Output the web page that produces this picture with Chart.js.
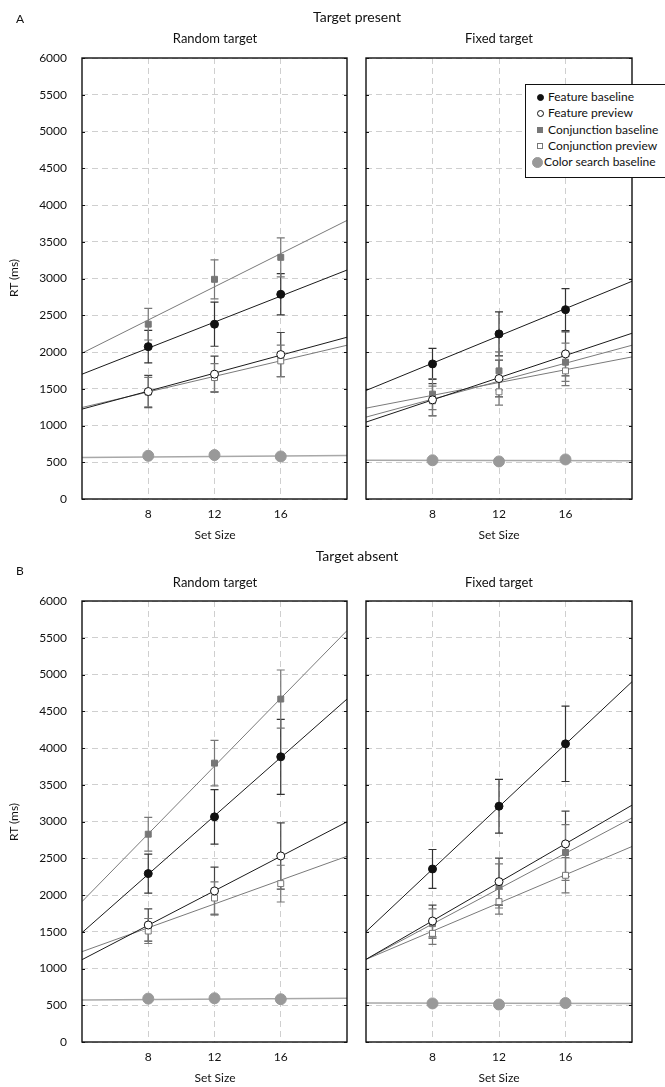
<!DOCTYPE html>
<html><head><meta charset="utf-8">
<script src="https://cdn.jsdelivr.net/npm/chart.js@4/dist/chart.umd.min.js"></script>
<style>
html,body{margin:0;padding:0;width:665px;height:1087px;overflow:hidden;background:#fff;font-family:Lato,'Open Sans',sans-serif;color:#111;}
canvas{position:absolute;left:0;top:0;}
.t{position:absolute;white-space:nowrap;transform:translate(-50%,-50%);line-height:1;}
.rot{transform:translate(-50%,-50%) rotate(-90deg);}
#legend{position:absolute;left:525px;top:84px;width:160px;height:92px;border:1px solid #111;background:#fff;font-size:12px;}
.mk{position:absolute;box-sizing:border-box;}
.lt{position:absolute;left:22px;white-space:nowrap;}
</style></head><body>
<canvas id="c1" width="665" height="1087"></canvas>
<canvas id="c2" width="665" height="1087"></canvas>
<canvas id="c3" width="665" height="1087"></canvas>
<canvas id="c4" width="665" height="1087"></canvas>

<div class="t" style="left:20px;top:19px;font-size:12px;">A</div>
<div class="t" style="left:357px;top:17px;font-size:14px;">Target present</div>
<div class="t" style="left:215px;top:38px;font-size:13px;">Random target</div>
<div class="t" style="left:499px;top:38px;font-size:13px;">Fixed target</div>
<div class="t rot" style="left:14px;top:278px;font-size:12px;">RT (ms)</div>
<div class="t" style="left:215px;top:535px;font-size:12px;">Set Size</div>
<div class="t" style="left:499px;top:535px;font-size:12px;">Set Size</div>
<div class="t" style="left:357px;top:556px;font-size:14px;">Target absent</div>
<div class="t" style="left:20px;top:571px;font-size:12px;">B</div>
<div class="t" style="left:215px;top:582px;font-size:13px;">Random target</div>
<div class="t" style="left:499px;top:582px;font-size:13px;">Fixed target</div>
<div class="t rot" style="left:14px;top:822px;font-size:12px;">RT (ms)</div>
<div class="t" style="left:215px;top:1078px;font-size:12px;">Set Size</div>
<div class="t" style="left:499px;top:1078px;font-size:12px;">Set Size</div>

<div id="legend"></div>

<script>
// ---------- shared axis data ----------
const setSizes = [8, 12, 16];
const fitX = [4, 20];
const seriesNames = ['Feature baseline', 'Feature preview', 'Conjunction baseline', 'Conjunction preview', 'Color search baseline'];

// ---------- A: Target present, Random target ----------
const presRandFeatBase = [2073, 2378, 2785];
const presRandFeatBaseErr = [220, 300, 280];
const presRandFeatBaseFit = [1698, 3115];
const presRandFeatPrev = [1462, 1698, 1965];
const presRandFeatPrevErr = [220, 245, 300];
const presRandFeatPrevFit = [1223, 2201];
const presRandConjBase = [2378, 2989, 3288];
const presRandConjBaseErr = [215, 265, 265];
const presRandConjBaseFit = [1984, 3790];
const presRandConjPrev = [1454, 1652, 1879];
const presRandConjPrevErr = [200, 190, 215];
const presRandConjPrevFit = [1245, 2092];
const presRandColor = [588, 598, 579];
const presRandColorFit = [565, 592];

// ---------- A: Target present, Fixed target ----------
const presFixFeatBase = [1838, 2246, 2576];
const presFixFeatBaseErr = [210, 300, 285];
const presFixFeatBaseFit = [1476, 2962];
const presFixFeatPrev = [1349, 1639, 1974];
const presFixFeatPrevErr = [220, 250, 300];
const presFixFeatPrevFit = [1046, 2255];
const presFixConjBase = [1427, 1743, 1861];
const presFixConjBaseErr = [210, 260, 260];
const presFixConjBaseFit = [1114, 2092];
const presFixConjPrev = [1336, 1458, 1743];
const presFixConjPrevErr = [200, 180, 200];
const presFixConjPrevFit = [1236, 1933];
const presFixColor = [527, 511, 538];
const presFixColorFit = [526, 522];

// ---------- B: Target absent, Random target ----------
const absRandFeatBase = [2291, 3063, 3880];
const absRandFeatBaseErr = [265, 370, 510];
const absRandFeatBaseFit = [1488, 4666];
const absRandFeatPrev = [1592, 2055, 2531];
const absRandFeatPrevErr = [220, 325, 450];
const absRandFeatPrevFit = [1120, 2995];
const absRandConjBase = [2827, 3794, 4666];
const absRandConjBaseErr = [230, 310, 395];
const absRandConjBaseFit = [1910, 5597];
const absRandConjPrev = [1510, 1959, 2155];
const absRandConjPrevErr = [170, 220, 250];
const absRandConjPrevFit = [1229, 2527];
const absRandColor = [590, 595, 582];
const absRandColorFit = [570, 595];

// ---------- B: Target absent, Fixed target ----------
const absFixFeatBase = [2354, 3208, 4057];
const absFixFeatBaseErr = [265, 365, 513];
const absFixFeatBaseFit = [1501, 4902];
const absFixFeatPrev = [1646, 2182, 2695];
const absFixFeatPrevErr = [215, 320, 445];
const absFixFeatPrevFit = [1124, 3222];
const absFixConjBase = [1610, 2123, 2578];
const absFixConjBaseErr = [200, 300, 380];
const absFixConjBaseFit = [1124, 3049];
const absFixConjPrev = [1478, 1910, 2268];
const absFixConjPrevErr = [150, 170, 240];
const absFixConjPrevFit = [1124, 2660];
const absFixColor = [525, 510, 530];
const absFixColorFit = [530, 525];

// ---------- styles ----------
const styles = [
  {line:'#1a1a1a', err:'#333', style:'circle', r:4, bg:'#111', bd:'#111', bw:1},
  {line:'#1a1a1a', err:'#444', style:'circle', r:4, bg:'#fff', bd:'#111', bw:1},
  {line:'#7a7a7a', err:'#777', style:'rect', r:4.2, bg:'#777', bd:'#777', bw:1},
  {line:'#7a7a7a', err:'#777', style:'rect', r:4.2, bg:'#fff', bd:'#777', bw:1},
  {line:'#a8a8a8', err:'#999', style:'circle', r:5.5, bg:'#999', bd:'#999', bw:1, lw:1.5}
];

function pts(vals){ return setSizes.map((x,i)=>({x:x, y:vals[i]})); }
function fit(vals){ return fitX.map((x,i)=>({x:x, y:vals[i]})); }

function buildDatasets(series){
  const ds = [];
  series.forEach((s, k)=>{
    const st = styles[k];
    ds.push({type:'line', label:seriesNames[k]+' fit', data:fit(s.fit), borderColor:st.line, borderWidth:st.lw||1,
      pointRadius:0, fill:false, order:10});
    ds.push({type:'scatter', label:seriesNames[k], data:pts(s.mean), errors:s.err, errorColor:st.err,
      pointStyle:st.style, pointRadius:st.r, backgroundColor:st.bg, borderColor:st.bd, borderWidth:st.bw, order:1});
  });
  return ds;
}

const errorBarPlugin = {
  id:'errbars',
  beforeDatasetsDraw(chart){
    const ctx = chart.ctx, xs = chart.scales.x, ys = chart.scales.y;
    chart.data.datasets.forEach(ds=>{
      if(!ds.errors) return;
      ctx.save(); ctx.strokeStyle = ds.errorColor; ctx.lineWidth = 1.2;
      ds.data.forEach((p,i)=>{
        const e = ds.errors[i]; if(!e) return;
        const x = xs.getPixelForValue(p.x), y1 = ys.getPixelForValue(p.y+e), y2 = ys.getPixelForValue(p.y-e);
        ctx.beginPath();
        ctx.moveTo(x,y1); ctx.lineTo(x,y2);
        ctx.moveTo(x-4,y1); ctx.lineTo(x+4,y1);
        ctx.moveTo(x-4,y2); ctx.lineTo(x+4,y2);
        ctx.stroke();
      });
      ctx.restore();
    });
  }
};

const framePlugin = {
  id:'frame',
  afterDraw(chart){
    const ctx = chart.ctx, a = chart.chartArea, ys = chart.scales.y;
    ctx.save();
    ctx.strokeStyle = '#111'; ctx.lineWidth = 1.4;
    ctx.strokeRect(a.left, a.top, a.right-a.left, a.bottom-a.top);
    ctx.lineWidth = 1;
    ys.ticks.forEach(t=>{
      const y = Math.round(ys.getPixelForValue(t.value))+0.5;
      ctx.beginPath(); ctx.moveTo(a.right-3,y); ctx.lineTo(a.right,y); ctx.stroke();
      ctx.beginPath(); ctx.moveTo(a.left,y); ctx.lineTo(a.left+3,y); ctx.stroke();
    });
    ctx.restore();
  }
};

const YW = 44, XH = 30, CW = 665, CH = 1087;
function makePanel(id, area, showY, series){
  new Chart(document.getElementById(id), {
    data:{datasets:buildDatasets(series)},
    options:{
      responsive:false, animation:false, devicePixelRatio:1,
      layout:{padding:{left:area.left-YW, top:area.top, right:CW-area.right, bottom:CH-area.bottom-XH}},
      plugins:{legend:{display:false}, tooltip:{enabled:false}},
      scales:{
        x:{type:'linear', min:4, max:20,
          afterBuildTicks:s=>{ s.ticks = setSizes.map(v=>({value:v})); },
          afterFit:s=>{ s.height = XH; },
          grid:{color:'#cfcfcf', lineWidth:1, drawTicks:false},
          border:{display:false, dash:[6,4]},
          ticks:{padding:8, color:'#111', font:{family:'Lato', size:12}, callback:v=>String(v)}},
        y:{type:'linear', min:0, max:6000,
          afterFit:s=>{ s.width = YW; },
          grid:{color:'#cfcfcf', lineWidth:1, drawTicks:false},
          border:{display:false, dash:[6,4]},
          ticks:{display:showY, stepSize:500, padding:15, color:'#111', font:{family:'Lato', size:12}, callback:v=>String(v)}}
      }
    },
    plugins:[errorBarPlugin, framePlugin]
  });
}

function S(mean, err, f){ return {mean:mean, err:err, fit:f}; }

makePanel('c1', {left:82, top:58, right:347, bottom:499}, true, [
  S(presRandFeatBase, presRandFeatBaseErr, presRandFeatBaseFit),
  S(presRandFeatPrev, presRandFeatPrevErr, presRandFeatPrevFit),
  S(presRandConjBase, presRandConjBaseErr, presRandConjBaseFit),
  S(presRandConjPrev, presRandConjPrevErr, presRandConjPrevFit),
  S(presRandColor, null, presRandColorFit)]);
makePanel('c2', {left:366, top:58, right:632, bottom:499}, false, [
  S(presFixFeatBase, presFixFeatBaseErr, presFixFeatBaseFit),
  S(presFixFeatPrev, presFixFeatPrevErr, presFixFeatPrevFit),
  S(presFixConjBase, presFixConjBaseErr, presFixConjBaseFit),
  S(presFixConjPrev, presFixConjPrevErr, presFixConjPrevFit),
  S(presFixColor, null, presFixColorFit)]);
makePanel('c3', {left:82, top:601, right:347, bottom:1042}, true, [
  S(absRandFeatBase, absRandFeatBaseErr, absRandFeatBaseFit),
  S(absRandFeatPrev, absRandFeatPrevErr, absRandFeatPrevFit),
  S(absRandConjBase, absRandConjBaseErr, absRandConjBaseFit),
  S(absRandConjPrev, absRandConjPrevErr, absRandConjPrevFit),
  S(absRandColor, null, absRandColorFit)]);
makePanel('c4', {left:366, top:601, right:632, bottom:1042}, false, [
  S(absFixFeatBase, absFixFeatBaseErr, absFixFeatBaseFit),
  S(absFixFeatPrev, absFixFeatPrevErr, absFixFeatPrevFit),
  S(absFixConjBase, absFixConjBaseErr, absFixConjBaseFit),
  S(absFixConjPrev, absFixConjPrevErr, absFixConjPrevFit),
  S(absFixColor, null, absFixColorFit)]);

// ---------- legend (HTML) ----------
const legendMarkers = [
  {w:7, h:7, r:'50%', bg:'#111', bd:'#111'},
  {w:7, h:7, r:'50%', bg:'#fff', bd:'#111'},
  {w:6, h:6, r:'0', bg:'#777', bd:'#777'},
  {w:6, h:6, r:'0', bg:'#fff', bd:'#777'},
  {w:11, h:11, r:'50%', bg:'#999', bd:'#999'}
];
const legendY = [12, 28, 45, 61, 77];
const lg = document.getElementById('legend');
seriesNames.forEach((n,i)=>{
  const m = legendMarkers[i];
  const mk = document.createElement('div');
  mk.className = 'mk';
  const cx = i===4 ? 11 : 14;
  mk.style.cssText = `left:${cx-m.w/2}px;top:${legendY[i]-m.h/2}px;width:${m.w}px;height:${m.h}px;border-radius:${m.r};background:${m.bg};border:1px solid ${m.bd};`;
  lg.appendChild(mk);
  const t = document.createElement('div');
  t.className = 'lt';
  t.textContent = n;
  t.style.top = (legendY[i]-8)+'px';
  t.style.left = (i===4 ? 18 : 22)+'px';
  lg.appendChild(t);
});
</script>
</body></html>
